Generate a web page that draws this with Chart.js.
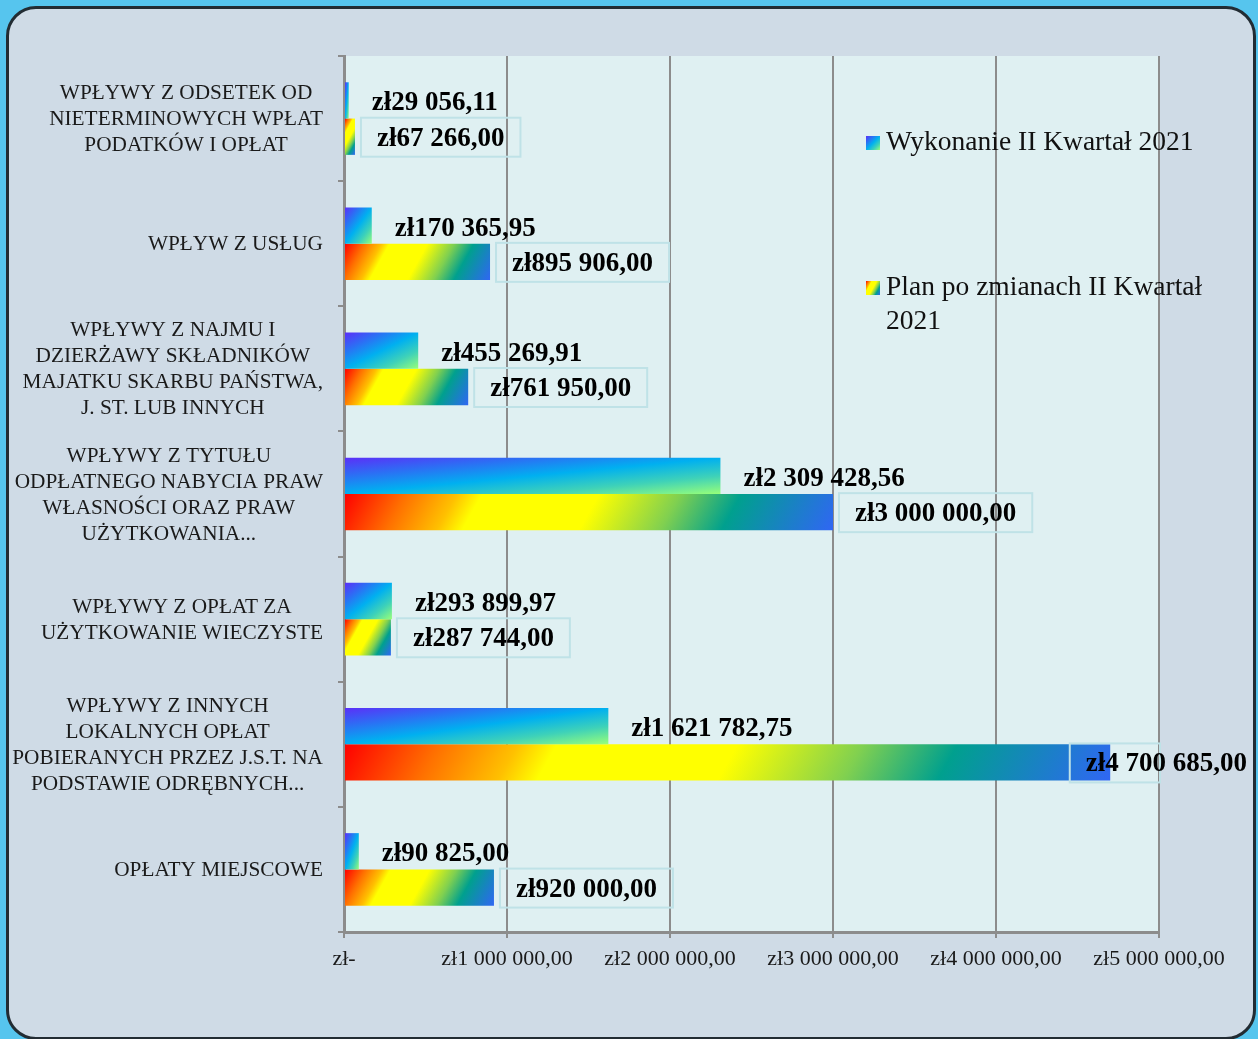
<!DOCTYPE html>
<html lang="pl">
<head>
    <meta charset="UTF-8">
    <title>Wpływy - II Kwartał 2021</title>
    <script src="https://cdn.jsdelivr.net/npm/chart.js"></script>
    <style>
        body { margin: 0; background: #56c5ee; width: 1258px; height: 1039px; overflow: hidden; }
        .panel { position: absolute; left: 6px; top: 6px; width: 1250px; height: 1034px; box-sizing: border-box;
                 border: 3px solid #222c33; border-radius: 30px; background: #cfdbe6; }
        #chart { position: absolute; left: 0; top: 0; }
    </style>
</head>
<body>
    <div class="panel"></div>
    <canvas id="chart" width="1258" height="1039"></canvas>

    <script>
        const categories = [
            ['WPŁYWY Z ODSETEK OD', 'NIETERMINOWYCH WPŁAT', 'PODATKÓW I OPŁAT'],
            ['WPŁYW Z USŁUG'],
            ['WPŁYWY Z NAJMU I', 'DZIERŻAWY SKŁADNIKÓW', 'MAJATKU SKARBU PAŃSTWA,', 'J. ST. LUB INNYCH'],
            ['WPŁYWY Z TYTUŁU', 'ODPŁATNEGO NABYCIA PRAW', 'WŁASNOŚCI ORAZ PRAW', 'UŻYTKOWANIA...'],
            ['WPŁYWY Z OPŁAT ZA', 'UŻYTKOWANIE WIECZYSTE'],
            ['WPŁYWY Z INNYCH', 'LOKALNYCH OPŁAT', 'POBIERANYCH PRZEZ J.S.T. NA', 'PODSTAWIE ODRĘBNYCH...'],
            ['OPŁATY MIEJSCOWE']
        ];
        const wykonanie = [29056.11, 170365.95, 455269.91, 2309428.56, 293899.97, 1621782.75, 90825.00];
        const planPoZmianach = [67266.00, 895906.00, 761950.00, 3000000.00, 287744.00, 4700685.00, 920000.00];
        const seriesNames = ['Wykonanie II Kwartał 2021', 'Plan po zmianach II Kwartał 2021'];
        const xTickLabels = ['zł-', 'zł1 000 000,00', 'zł2 000 000,00', 'zł3 000 000,00', 'zł4 000 000,00', 'zł5 000 000,00'];

        const FONT = '"Liberation Serif", "DejaVu Serif", serif';

        function fmt(v) {
            const parts = v.toFixed(2).split('.');
            return 'zł' + parts[0].replace(/\B(?=(\d{3})+(?!\d))/g, ' ') + ',' + parts[1];
        }

        // blue series: gradient stretched with the shape (diagonal corner to corner)
        function blueFill(ctx, left, top, w, h) {
            const n2 = 1 / (w * w) + 1 / (h * h);
            const g = ctx.createLinearGradient(left, top, left + 2 / n2 / w, top + 2 / n2 / h);
            g.addColorStop(0, '#5b2ff8');
            g.addColorStop(0.25, '#2c6ff4');
            g.addColorStop(0.5, '#00b0f0');
            g.addColorStop(0.75, '#3fd2b8');
            g.addColorStop(1, '#98ff78');
            return g;
        }

        // rainbow series: fixed slant, spans the bar
        function rainbowFill(ctx, left, top, w, h) {
            const len = Math.hypot(36, 20);
            const dx = 36 / len, dy = 20 / len;
            const L = w * dx + h * dy;
            const g = ctx.createLinearGradient(left, top, left + L * dx, top + L * dy);
            g.addColorStop(0, '#ff0000');
            g.addColorStop(0.12, '#ff7000');
            g.addColorStop(0.22, '#ffc000');
            g.addColorStop(0.27, '#ffff00');
            g.addColorStop(0.5, '#ffff00');
            g.addColorStop(0.66, '#80d050');
            g.addColorStop(0.78, '#00a08e');
            g.addColorStop(1, '#3066f4');
            return g;
        }

        const fills = [blueFill, rainbowFill];

        const framePlugin = {
            id: 'frame',
            beforeDraw(chart) {
                const { ctx, chartArea: a } = chart;
                ctx.save();
                ctx.fillStyle = '#dff0f2';
                ctx.fillRect(a.left, a.top, a.right - a.left, a.bottom - a.top);
                ctx.restore();
            },
            beforeDatasetsDraw(chart) {
                const ctx = chart.ctx;
                chart.data.datasets.forEach((ds, di) => {
                    chart.getDatasetMeta(di).data.forEach(el => {
                        const p = el.getProps(['x', 'y', 'base', 'height'], true);
                        const left = Math.min(p.x, p.base);
                        const w = Math.max(Math.abs(p.x - p.base), 1);
                        el.options.backgroundColor = fills[di](ctx, left, p.y - p.height / 2, w, p.height);
                    });
                });
            },
            afterDatasetsDraw(chart) {
                const { ctx, chartArea: a } = chart;
                ctx.save();
                ctx.font = 'bold 27px ' + FONT;
                ctx.textBaseline = 'middle';
                ctx.fillStyle = '#000';
                chart.data.datasets.forEach((ds, di) => {
                    chart.getDatasetMeta(di).data.forEach((el, i) => {
                        const p = el.getProps(['x', 'y'], true);
                        const txt = fmt(ds.data[i]);
                        const tw = ctx.measureText(txt).width;
                        if (di === 0) {
                            ctx.fillText(txt, p.x + 23, p.y + 3);
                        } else {
                            let tx = p.x + 22;
                            if (tx + tw > chart.width - 11) tx = chart.width - 11 - tw;
                            const bl = tx - 16;
                            const br = Math.min(tx + tw + 16, a.right + 1);
                            ctx.strokeStyle = '#bfe2e7';
                            ctx.lineWidth = 2;
                            ctx.strokeRect(bl, p.y - 19, br - bl, 39);
                            ctx.fillText(txt, tx, p.y + 2);
                        }
                    });
                });
                ctx.restore();
            },
            afterDraw(chart) {
                const { ctx } = chart;
                const yScale = chart.scales.y;
                // category labels: block right-aligned to the axis, lines centred in the block
                ctx.save();
                ctx.font = '21.3px ' + FONT;
                ctx.fillStyle = '#1a1a1a';
                ctx.textAlign = 'center';
                ctx.textBaseline = 'middle';
                chart.data.labels.forEach((lines, i) => {
                    const cy = yScale.getPixelForValue(i);
                    const bw = Math.max(...lines.map(l => ctx.measureText(l).width));
                    const cx = yScale.right - 21 - bw / 2;
                    const lh = 26;
                    lines.forEach((l, k) => {
                        ctx.fillText(l, cx, cy + (k - (lines.length - 1) / 2) * lh + 1);
                    });
                });

                // legend
                ctx.font = '27.5px ' + FONT;
                ctx.textAlign = 'left';
                const legendY = [143, 288];
                chart.data.datasets.forEach((ds, di) => {
                    const y0 = legendY[di];
                    ctx.fillStyle = fills[di](ctx, 866, y0 - 7, 14, 14);
                    ctx.fillRect(866, y0 - 7, 14, 14);
                    ctx.fillStyle = '#111';
                    const words = ds.label.split(' ');
                    let line = '', ly = y0;
                    words.forEach(wd => {
                        const test = line ? line + ' ' + wd : wd;
                        if (line && ctx.measureText(test).width > 340) {
                            ctx.fillText(line, 886, ly);
                            line = wd;
                            ly += 34;
                        } else {
                            line = test;
                        }
                    });
                    ctx.fillText(line, 886, ly);
                });
                ctx.restore();
            }
        };

        new Chart(document.getElementById('chart'), {
            type: 'bar',
            data: {
                labels: categories,
                datasets: [
                    { label: seriesNames[0], data: wykonanie, backgroundColor: () => '#00b0f0' },
                    { label: seriesNames[1], data: planPoZmianach, backgroundColor: () => '#ffff00' }
                ]
            },
            options: {
                indexAxis: 'y',
                responsive: false,
                animation: false,
                categoryPercentage: 0.58,
                barPercentage: 1.0,
                layout: { padding: { top: 56, right: 99, left: 0, bottom: 0 } },
                plugins: {
                    legend: { display: false },
                    tooltip: { enabled: false }
                },
                scales: {
                    x: {
                        min: 0,
                        max: 5000000,
                        afterFit(scale) { scale.height = 107; },
                        ticks: {
                            stepSize: 1000000,
                            padding: 8,
                            color: '#1a1a1a',
                            font: { family: FONT, size: 22 },
                            maxRotation: 0,
                            callback: (v, i) => xTickLabels[i]
                        },
                        grid: { color: '#8c8c8c', lineWidth: 2, tickLength: 6 },
                        border: { color: '#8c8c8c', width: 3 }
                    },
                    y: {
                        afterFit(scale) { scale.width = 344; },
                        ticks: { display: false },
                        grid: { drawOnChartArea: false, color: '#8c8c8c', lineWidth: 2, tickLength: 6, offset: true },
                        border: { color: '#8c8c8c', width: 3 }
                    }
                }
            },
            plugins: [framePlugin]
        });
    </script>
</body>
</html>
